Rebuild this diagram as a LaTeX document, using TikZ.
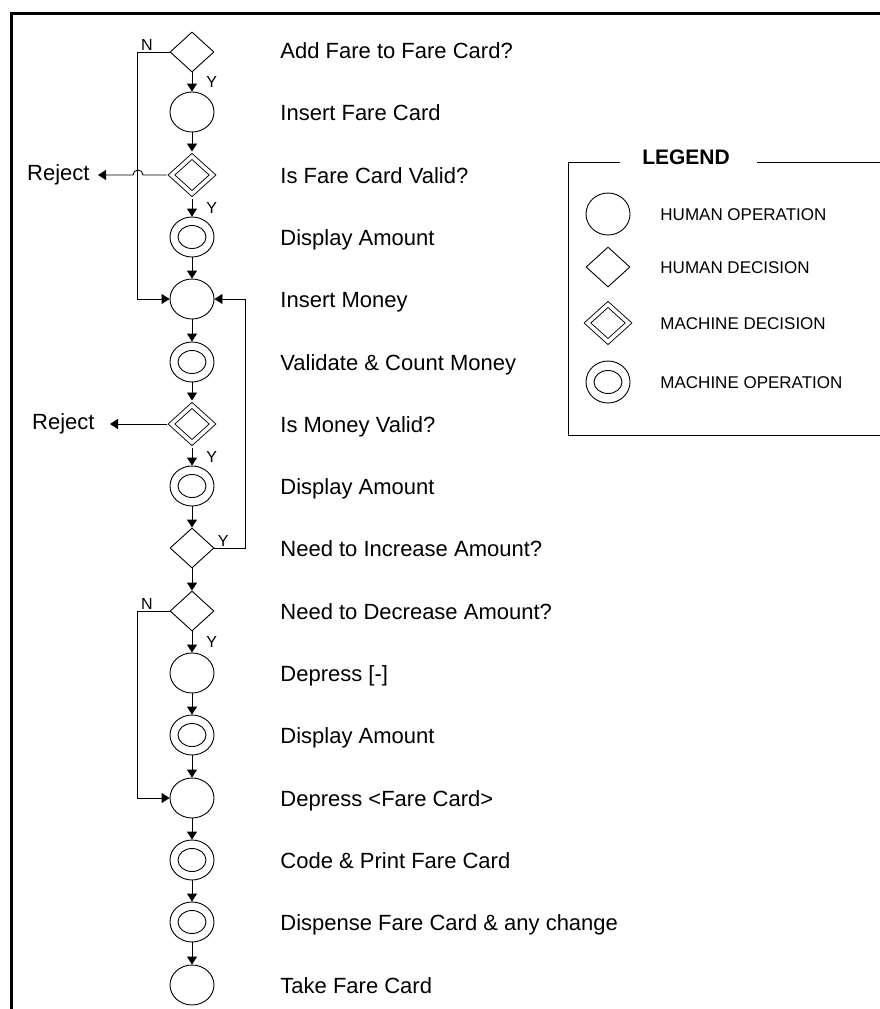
\documentclass[tikz,border=0pt]{standalone}
\usepackage{fontspec}
\setmainfont{Liberation Sans}
\usetikzlibrary{arrows.meta,shapes.geometric}

\begin{document}
\begin{tikzpicture}[x=1pt, y=-1pt, line width=0.9pt, >={Triangle[length=8pt,width=10pt]},
	every node/.style={font=\fontsize{22}{26}\selectfont},
	humop/.style={draw, ellipse, minimum width=44pt, minimum height=40pt, inner sep=0pt},
	macop/.style={humop, path picture={\draw (path picture bounding box.center) ellipse (14pt and 11.5pt);}},
	humdec/.style={draw, diamond, minimum width=44pt, minimum height=40pt, inner sep=0pt},
	macdec/.style={humdec, double, double distance=3.5pt, outer sep=3.5pt},
	txt/.style={anchor=base west, yshift=-8pt, inner sep=0pt},
	lgtxt/.style={anchor=base west, yshift=-6pt, inner sep=0pt, font=\fontsize{17}{20}\selectfont},
	rejtxt/.style={anchor=east, inner xsep=8pt},
	lab/.style={font=\fontsize{16}{18}\selectfont, inner sep=1pt},
	flow/.style={->}]
	\useasboundingbox (0,0) rectangle (880,1009);
	\draw[line width=3pt] (880,13) -- (11,13) -- (11,1009);
	% flow symbols
	\node[humdec] (add) at (192,52) {};
	\node[humop] (inscard) at (192,112) {};
	\node[macdec] (cardok) at (192,175) {};
	\node[macop] (show1) at (192,237) {};
	\node[humop] (insmoney) at (192,299) {};
	\node[macop] (count) at (192,362) {};
	\node[macdec] (moneyok) at (192,424) {};
	\node[macop] (show2) at (192,486) {};
	\node[humdec] (more) at (192,548) {};
	\node[humdec] (less) at (192,611) {};
	\node[humop] (minus) at (192,673) {};
	\node[macop] (show3) at (192,735) {};
	\node[humop] (cardbtn) at (192,798) {};
	\node[macop] (print) at (192,860) {};
	\node[macop] (dispense) at (192,922) {};
	\node[humop] (take) at (192,985) {};
	% step texts
	\node[txt] (tadd) at (280,50) {Add Fare to Fare Card?};
	\node[txt] (tinscard) at (280,112) {Insert Fare Card};
	\node[txt] (tcardok) at (280,175) {Is Fare Card Valid?};
	\node[txt] (tshow1) at (280,237) {Display Amount};
	\node[txt] (tinsmoney) at (280,299) {Insert Money};
	\node[txt] (tcount) at (280,362) {Validate \& Count Money};
	\node[txt] (tmoneyok) at (280,424) {Is Money Valid?};
	\node[txt] (tshow2) at (280,486) {Display Amount};
	\node[txt] (tmore) at (280,548) {Need to Increase Amount?};
	\node[txt] (tless) at (280,611) {Need to Decrease Amount?};
	\node[txt] (tminus) at (280,673) {Depress [-]};
	\node[txt] (tshow3) at (280,735) {Display Amount};
	\node[txt] (tcardbtn) at (280,798) {Depress <Fare Card>};
	\node[txt] (tprint) at (280,860) {Code \& Print Fare Card};
	\node[txt] (tdispense) at (280,922) {Dispense Fare Card \& any change};
	\node[txt] (ttake) at (280,985) {Take Fare Card};
	% straight flow
	\draw[flow] (add) -- node[lab, right=13pt] {Y} (inscard);
	\draw[flow] (inscard) -- (cardok);
	\draw[flow] (cardok) -- node[lab, right=13pt] {Y} (show1);
	\draw[flow] (show1) -- (insmoney);
	\draw[flow] (insmoney) -- (count);
	\draw[flow] (count) -- (moneyok);
	\draw[flow] (moneyok) -- node[lab, right=13pt] {Y} (show2);
	\draw[flow] (show2) -- (more);
	\draw[flow] (more) -- (less);
	\draw[flow] (less) -- node[lab, right=13pt] {Y} (minus);
	\draw[flow] (minus) -- (show3);
	\draw[flow] (show3) -- (cardbtn);
	\draw[flow] (cardbtn) -- (print);
	\draw[flow] (print) -- (dispense);
	\draw[flow] (dispense) -- (take);
	% branches
	\draw[flow] (add.west) -- ++(-32,0) node[lab, above right, xshift=2pt] {N} |- (insmoney.west);
	\draw[flow] (more.east) node[lab, above right, xshift=2pt] {Y} -- ++(31,0) |- (insmoney.east);
	\draw[flow] (less.west) -- ++(-32,0) node[lab, above right, xshift=2pt] {N} |- (cardbtn.west);
	\node[rejtxt] (rej1) at (98,175) {Reject};
	\node[rejtxt, inner xsep=15pt] (rej2) at (110,424) {Reject};
	\draw[flow] (cardok.west) -- ++(-23.5,0) arc[start angle=0, end angle=-180, radius=5] -- (rej1.east);
	\draw[flow] (moneyok.west) -- (rej2.east);
	% legend
	\node[font=\bfseries\fontsize{21}{24}\selectfont] (lgtitle) at (686,157) {LEGEND};
	\draw (620,162) -| (568,435) -- (880,435);
	\draw (757,162) -- (880,162);
	\node[humop, minimum height=42pt] (lg1) at (608,214) {};
	\node[humdec] (lg2) at (608,267) {};
	\node[macdec] (lg3) at (608,323) {};
	\node[macop, minimum height=42pt] (lg4) at (608,382) {};
	\node[lgtxt] (lgt1) at (660,214) {HUMAN OPERATION};
	\node[lgtxt] (lgt2) at (660,267) {HUMAN DECISION};
	\node[lgtxt] (lgt3) at (660,323) {MACHINE DECISION};
	\node[lgtxt] (lgt4) at (660,382) {MACHINE OPERATION};
\end{tikzpicture}
\end{document}
